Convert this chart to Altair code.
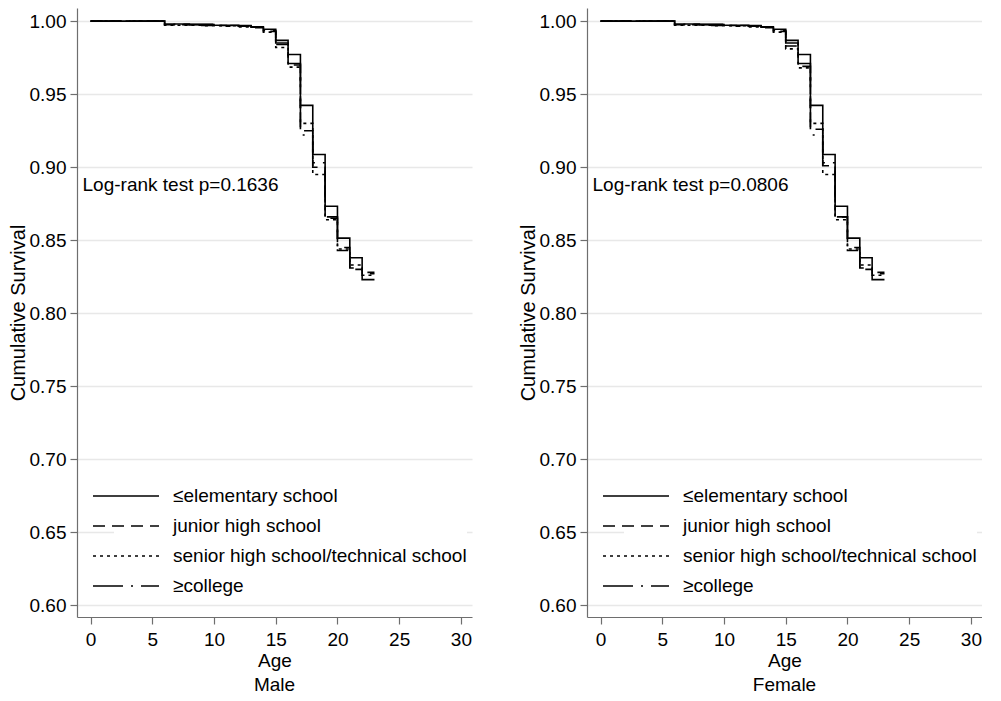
import altair as alt
import pandas as pd

FONT = "Liberation Sans"
groups = ["≤elementary school", "junior high school",
          "senior high school/technical school", "≥college"]

# ---- Male ----
m_t_elem = [0, 6, 8, 10, 12, 13, 14, 15, 16, 17, 18, 19, 20, 21, 22, 23]
m_s_elem = [1.0, 0.998, 0.9976, 0.9972, 0.9968, 0.9962, 0.9945, 0.9868, 0.9772,
            0.9423, 0.9087, 0.8733, 0.8514, 0.8380, 0.8230, 0.8230]
m_t_jun = [0, 6, 9, 11, 13, 14, 15, 16, 17, 18, 19, 20, 21, 22, 23]
m_s_jun = [1.0, 0.9975, 0.997, 0.9965, 0.9955, 0.993, 0.984, 0.970, 0.925,
           0.900, 0.865, 0.843, 0.830, 0.827, 0.827]
m_t_sen = [0, 6, 9, 12, 14, 15, 16, 17, 18, 19, 20, 21, 22, 23]
m_s_sen = [1.0, 0.9972, 0.9968, 0.996, 0.9925, 0.982, 0.9685, 0.930, 0.895,
           0.864, 0.844, 0.833, 0.826, 0.826]
m_t_col = [0, 6, 10, 13, 14, 15, 16, 17, 18, 19, 20, 21, 22, 23]
m_s_col = [1.0, 0.9978, 0.997, 0.9958, 0.9935, 0.985, 0.971, 0.922, 0.903,
           0.866, 0.845, 0.831, 0.828, 0.828]

# ---- Female ----
f_t_elem = [0, 6, 8, 10, 12, 13, 14, 15, 16, 17, 18, 19, 20, 21, 22, 23]
f_s_elem = [1.0, 0.998, 0.9976, 0.9972, 0.9968, 0.9962, 0.9945, 0.9868, 0.9772,
            0.9423, 0.9087, 0.8733, 0.8514, 0.8380, 0.8230, 0.8230]
f_t_jun = [0, 6, 9, 11, 13, 14, 15, 16, 17, 18, 19, 20, 21, 22, 23]
f_s_jun = [1.0, 0.9975, 0.997, 0.9965, 0.9955, 0.993, 0.983, 0.969, 0.926,
           0.901, 0.866, 0.843, 0.830, 0.827, 0.827]
f_t_sen = [0, 6, 9, 12, 14, 15, 16, 17, 18, 19, 20, 21, 22, 23]
f_s_sen = [1.0, 0.9972, 0.9968, 0.996, 0.9925, 0.981, 0.968, 0.930, 0.895,
           0.864, 0.844, 0.833, 0.826, 0.826]
f_t_col = [0, 6, 10, 13, 14, 15, 16, 17, 18, 19, 20, 21, 22, 23]
f_s_col = [1.0, 0.9978, 0.997, 0.9958, 0.9935, 0.985, 0.971, 0.922, 0.903,
           0.866, 0.845, 0.831, 0.828, 0.828]

x_ticks = [0, 5, 10, 15, 20, 25, 30]
y_ticks = [0.60, 0.65, 0.70, 0.75, 0.80, 0.85, 0.90, 0.95, 1.00]
panel_titles = ["Male", "Female"]
pvals = ["Log-rank test p=0.1636", "Log-rank test p=0.0806"]

W, H = 395, 609
dash_range = [[1, 0], [12, 7], [3, 4], [30, 8, 2, 8]]


def build(ts, ss):
    rows = []
    for g, t, s in zip(groups, ts, ss):
        for ti, si in zip(t, s):
            rows.append({"group": g, "age": ti, "surv": si})
    return pd.DataFrame(rows)


def panel(df, pval, title):
    xs = alt.Scale(domain=[-1.1, 30.9], nice=False, zero=False)
    ys = alt.Scale(domain=[0.592, 1.009], nice=False, zero=False)
    lines = alt.Chart(df).mark_line(
        interpolate="step-after", color="black", strokeWidth=1.6
    ).encode(
        x=alt.X("age:Q", scale=xs,
                axis=alt.Axis(values=x_ticks, title="Age", grid=False,
                              labelPadding=6, titlePadding=2)),
        y=alt.Y("surv:Q", scale=ys,
                axis=alt.Axis(values=y_ticks, format=".2f",
                              title="Cumulative Survival", titleFontSize=20,
                              labelPadding=4, titlePadding=1)),
        strokeDash=alt.StrokeDash(
            "group:N",
            scale=alt.Scale(domain=groups, range=dash_range),
            legend=alt.Legend(
                title=None, orient="none", legendX=37, legendY=476,
                symbolType="M-3,0H3", symbolSize=484,
                symbolStrokeWidth=1.6, symbolStrokeColor="black",
                symbolFillColor="transparent",
                labelFont=FONT, labelFontSize=19, labelColor="black",
                labelOffset=35, rowPadding=8, padding=0,
                fillColor="white", labelLimit=400,
            ),
        ),
    )
    txt = alt.Chart(pd.DataFrame({"x": [-0.65], "y": [0.888], "label": [pval]})).mark_text(
        align="left", baseline="middle", font=FONT, fontSize=19, color="black"
    ).encode(x=alt.X("x:Q", scale=xs), y=alt.Y("y:Q", scale=ys), text="label:N")
    return alt.layer(lines, txt).properties(
        width=W, height=H,
        title=alt.TitleParams(title, orient="bottom", font=FONT, fontSize=19,
                              fontWeight="normal", color="black", offset=6,
                              frame="group", anchor="middle"),
    )


left = panel(build([m_t_elem, m_t_jun, m_t_sen, m_t_col],
                   [m_s_elem, m_s_jun, m_s_sen, m_s_col]), pvals[0], panel_titles[0])
right = panel(build([f_t_elem, f_t_jun, f_t_sen, f_t_col],
                    [f_s_elem, f_s_jun, f_s_sen, f_s_col]), pvals[1], panel_titles[1])

chart = alt.hconcat(left, right, spacing=46).resolve_legend(
    strokeDash="independent"
).resolve_scale(strokeDash="independent").properties(
    padding=0
).configure_view(stroke=None).configure_axis(
    labelFont=FONT, labelFontSize=19, labelColor="black",
    titleFont=FONT, titleFontSize=19, titleFontWeight="normal", titleColor="black",
    domainColor="#6e6e6e", domainWidth=1.2, tickColor="#6e6e6e", tickWidth=1.2,
    tickSize=7, gridColor="#e8e8e8", gridWidth=1.5,
).configure_axisX(grid=False).configure_axisY(grid=True)

chart.save("out.html", embed_options={"renderer": "svg", "actions": False})
